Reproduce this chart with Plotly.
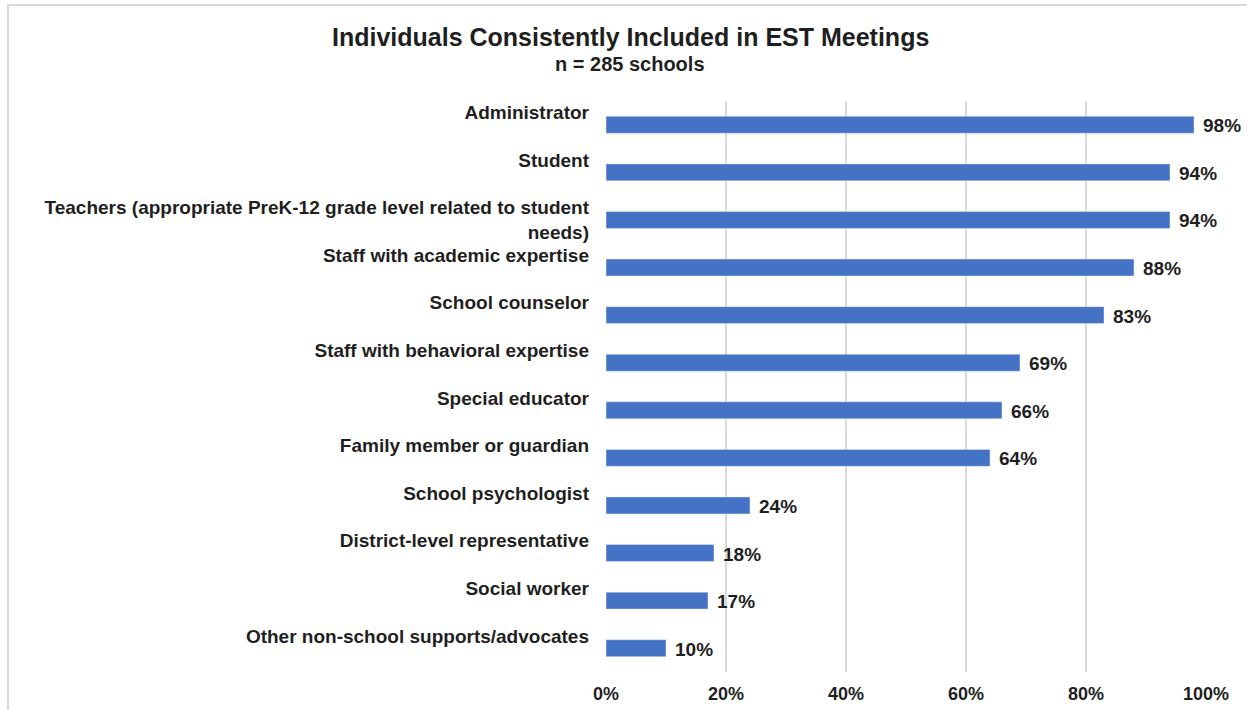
import plotly.graph_objects as go

# Survey results: share of schools that consistently include each role in EST meetings
roles = [
    "Administrator",
    "Student",
    "Teachers (appropriate PreK-12 grade level related to student<br>needs)",
    "Staff with academic expertise",
    "School counselor",
    "Staff with behavioral expertise",
    "Special educator",
    "Family member or guardian",
    "School psychologist",
    "District-level representative",
    "Social worker",
    "Other non-school supports/advocates",
]
percent = [98, 94, 94, 88, 83, 69, 66, 64, 24, 18, 17, 10]
x_ticks = [0, 20, 40, 60, 80, 100]
x_tick_labels = ["0%", "20%", "40%", "60%", "80%", "100%"]

W, H = 1247, 710
ML, MR, MT, MB = 606, 41, 101, 38
PW, PH = W - ML - MR, H - MT - MB

def px_x(px):
    return (px - ML) / PW

def px_y(py):
    return (H - MB - py) / PH

FONT = "Liberation Sans, Arial, sans-serif"
INK = "#1f1f1f"

# single-line labels sit half a line above their bar
tick_text = [r if "<br>" in r else r + "<br>\u00a0" for r in roles]

fig = go.Figure(
    go.Bar(
        x=percent,
        y=roles,
        orientation="h",
        marker=dict(color="#4472C4"),
        width=0.357,
        hoverinfo="skip",
    )
)

annotations = []
for r, v in zip(roles, percent):
    annotations.append(dict(
        x=v, y=r, xref="x", yref="y", text=f"{v}%", showarrow=False,
        xanchor="left", yanchor="middle", xshift=7, yshift=-1,
        font=dict(family=FONT, size=19, color=INK, weight="bold"),
    ))

annotations.append(dict(
    x=px_x(630), y=px_y(37), xref="paper", yref="paper",
    text="Individuals Consistently Included in EST Meetings", showarrow=False,
    xanchor="center", yanchor="middle",
    font=dict(family=FONT, size=25, color=INK, weight="bold"),
))
annotations.append(dict(
    x=px_x(630), y=px_y(64), xref="paper", yref="paper",
    text="n = 285 schools", showarrow=False,
    xanchor="center", yanchor="middle",
    font=dict(family=FONT, size=20, color=INK, weight="bold"),
))

fig.update_layout(
    width=W, height=H,
    margin=dict(l=ML, r=MR, t=MT, b=MB, pad=0, autoexpand=False),
    paper_bgcolor="white", plot_bgcolor="white",
    showlegend=False,
    annotations=annotations,
    shapes=[dict(
        type="rect", xref="paper", yref="paper",
        x0=px_x(8), x1=px_x(1300), y0=px_y(780), y1=px_y(5),
        line=dict(color="#d9d9d9", width=2), fillcolor="rgba(0,0,0,0)",
        layer="below",
    )],
    xaxis=dict(
        range=[0, 100], tickvals=x_ticks, ticktext=x_tick_labels,
        showgrid=True, gridcolor="#d9d9d9", gridwidth=2,
        zeroline=False, showline=False, ticks="",
        ticklabelstandoff=9, automargin=False,
        tickfont=dict(family=FONT, size=18, color=INK, weight="bold"),
        fixedrange=True,
    ),
    yaxis=dict(
        categoryorder="array", categoryarray=roles, autorange="reversed",
        tickvals=roles, ticktext=tick_text,
        showgrid=False, zeroline=False, showline=False, ticks="",
        ticklabelstandoff=16, automargin=False,
        tickfont=dict(family=FONT, size=19, color=INK, weight="bold"),
        fixedrange=True,
    ),
)

fig.write_html("out.html", config={"displayModeBar": False})
